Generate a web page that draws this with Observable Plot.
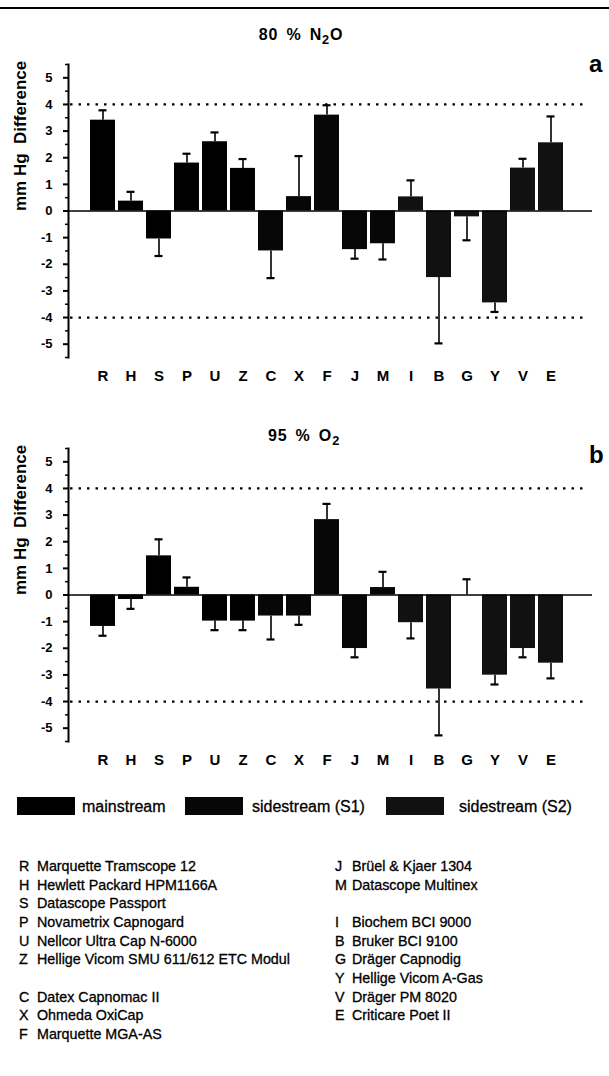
<!DOCTYPE html>
<html><head><meta charset="utf-8">
<script src="https://cdn.jsdelivr.net/npm/d3@7"></script>
<script src="https://cdn.jsdelivr.net/npm/@observablehq/plot@0.6"></script>
<style>
body{margin:0;background:#fff;font-family:"Liberation Sans",Arial,Helvetica,sans-serif;color:#000;}
#page{position:relative;width:609px;height:1076px;overflow:hidden;background:#fff;}
.abs{position:absolute;white-space:nowrap;line-height:1;}
.title{font-weight:bold;font-size:16px;letter-spacing:0.8px;word-spacing:3px;}
.title sub{font-size:0.8em;vertical-align:-0.3em;line-height:0;}
.panel{font-weight:bold;font-size:24px;}
.leg{font-size:16px;-webkit-text-stroke:0.3px #000;}
.list{font-size:14.3px;-webkit-text-stroke:0.3px #000;}
</style></head><body><div id="page"></div>
<script>
// ---- data ----
const codes = ["R","H","S","P","U","Z","C","X","F","J","M","I","B","G","Y","V","E"];
const groups = ["mainstream","mainstream","mainstream","mainstream","mainstream","mainstream",
  "sidestream (S1)","sidestream (S1)","sidestream (S1)","sidestream (S1)","sidestream (S1)",
  "sidestream (S2)","sidestream (S2)","sidestream (S2)","sidestream (S2)","sidestream (S2)","sidestream (S2)"];
const groupNames = ["mainstream","sidestream (S1)","sidestream (S2)"];
const groupColors = ["#000000","#070707","#111111"];
// 80 % N2O : mean difference and SD (mm Hg)
const n2oMean = [3.41,0.37,-1.05,1.80,2.60,1.60,-1.50,0.54,3.60,-1.45,-1.23,0.53,-2.50,-0.22,-3.45,1.61,2.56];
const n2oSD   = [0.37,0.35,0.64,0.35,0.35,0.35,1.02,1.52,0.37,0.34,0.59,0.62,2.47,0.88,0.34,0.35,0.99];
// 95 % O2 : mean difference and SD (mm Hg)
const o2Mean = [-1.18,-0.17,1.47,0.29,-0.98,-0.98,-0.79,-0.79,2.83,-2.01,0.28,-1.04,-3.53,0.00,-3.01,-2.01,-2.56];
const o2SD   = [0.35,0.35,0.62,0.37,0.34,0.34,0.88,0.33,0.59,0.33,0.59,0.59,1.74,0.59,0.35,0.33,0.57];
const yTicks = [-5,-4,-3,-2,-1,0,1,2,3,4,5];
const yMinor = [-5.5,-4.5,-3.5,-2.5,-1.5,-0.5,0.5,1.5,2.5,3.5,4.5,5.5];
const limits = [4,-4];
const yLabel = "mm Hg\u00a0\u00a0Difference";
const deviceNames = {
  R:"Marquette Tramscope 12", H:"Hewlett Packard HPM1166A", S:"Datascope Passport",
  P:"Novametrix Capnogard", U:"Nellcor Ultra Cap N-6000", Z:"Hellige Vicom SMU 611/612 ETC Modul",
  C:"Datex Capnomac II", X:"Ohmeda OxiCap", F:"Marquette MGA-AS",
  J:"Brüel & Kjaer 1304", M:"Datascope Multinex", I:"Biochem BCI 9000", B:"Bruker BCI 9100",
  G:"Dräger Capnodig", Y:"Hellige Vicom A-Gas", V:"Dräger PM 8020", E:"Criticare Poet II"
};
const listLeft = [["R",0],["H",1],["S",2],["P",3],["U",4],["Z",5],["C",7],["X",8],["F",9]];
const listRight = [["J",0],["M",1],["I",3],["B",4],["G",5],["Y",6],["V",7],["E",8]];

const FONT = '"Liberation Sans", Arial, Helvetica, sans-serif';
const page = document.getElementById("page");

function addDiv(cls, html, left, top, extra) {
  const d = document.createElement("div");
  d.className = "abs " + cls;
  d.innerHTML = html;
  d.style.left = left + "px";
  d.style.top = top + "px";
  if (extra) Object.assign(d.style, extra);
  page.appendChild(d);
  return d;
}

function panel(means, sds) {
  const data = codes.map((c, i) => ({
    code: c, group: groups[i], mean: means[i],
    end: means[i] >= 0 ? means[i] + sds[i] : means[i] - sds[i]
  }));
  return Plot.plot({
    width: 609, height: 346,
    marginTop: 20, marginBottom: 33, marginLeft: 68, marginRight: 17,
    style: {fontFamily: FONT, color: "#000", background: "transparent", overflow: "visible"},
    x: {type: "band", domain: codes, range: [85, 568.3], paddingInner: 0.09, paddingOuter: 0, align: 0.5},
    y: {domain: [-5.5, 5.5]},
    color: {domain: groupNames, range: groupColors},
    marks: [
      Plot.ruleY(limits, {stroke: "#000", strokeWidth: 2.2, strokeDasharray: "2.5,6", insetLeft: 2, insetRight: 9}),
      Plot.barY(data, {x: "code", y: "mean", fill: "group", insetLeft: 0, insetRight: 0}),
      Plot.ruleX(data, {x: "code", y1: "mean", y2: "end", stroke: "#000", strokeWidth: 1.6}),
      Plot.tickY(data, {x: "code", y: "end", stroke: "#000", strokeWidth: 2.2, insetLeft: 8.5, insetRight: 8.5}),
      Plot.ruleY([0], {stroke: "#000", strokeWidth: 1.6}),
      Plot.frame({anchor: "left", stroke: "#000", strokeWidth: 2}),
      Plot.axisY(yMinor, {tickSize: 3, tickFormat: () => "", label: null, strokeWidth: 1.5}),
      Plot.axisY(yTicks, {tickSize: 5, tickPadding: 11, tickFormat: d => String(d), fontSize: 13, fontWeight: "bold", label: null, strokeWidth: 2}),
      Plot.axisX({tickSize: 0, tickPadding: 13.2, fontSize: 15, fontWeight: "bold", label: null}),
      Plot.text([yLabel], {frameAnchor: "left", dx: -48, rotate: -90, fontSize: 17, fontWeight: "bold"})
    ]
  });
}

// top rule
const rule = document.createElement("div");
Object.assign(rule.style, {position: "absolute", left: "0px", top: "7px", width: "609px", height: "2px", background: "#000"});
page.appendChild(rule);

// panel a
const a = panel(n2oMean, n2oSD);
Object.assign(a.style, {position: "absolute", left: "0px", top: "44px"});
page.appendChild(a);
addDiv("title", "80 % N<sub>2</sub>O", 0, 26.5, {width: "602px", textAlign: "center"});
addDiv("panel", "a", 589, 52);

// panel b
const b = panel(o2Mean, o2SD);
Object.assign(b.style, {position: "absolute", left: "0px", top: "428px"});
page.appendChild(b);
addDiv("title", "95 % O<sub>2</sub>", 0, 428, {width: "608px", textAlign: "center"});
addDiv("panel", "b", 589, 443);

// legend
const legX = [[17, 82], [185, 252], [386, 459]];
groupNames.forEach((g, i) => {
  const box = document.createElement("div");
  Object.assign(box.style, {position: "absolute", left: legX[i][0] + "px", top: "797px", width: "58px", height: "18px", background: groupColors[i]});
  page.appendChild(box);
  addDiv("leg", g, legX[i][1], 798.5);
});

// device list
const rowY0 = 859, rowStep = 18.67;
listLeft.forEach(([c, r]) => {
  addDiv("list", c, 19, rowY0 + r * rowStep);
  addDiv("list", deviceNames[c], 37, rowY0 + r * rowStep);
});
listRight.forEach(([c, r]) => {
  addDiv("list", c, 335, rowY0 + r * rowStep);
  addDiv("list", deviceNames[c], 352, rowY0 + r * rowStep);
});
</script></body></html>
